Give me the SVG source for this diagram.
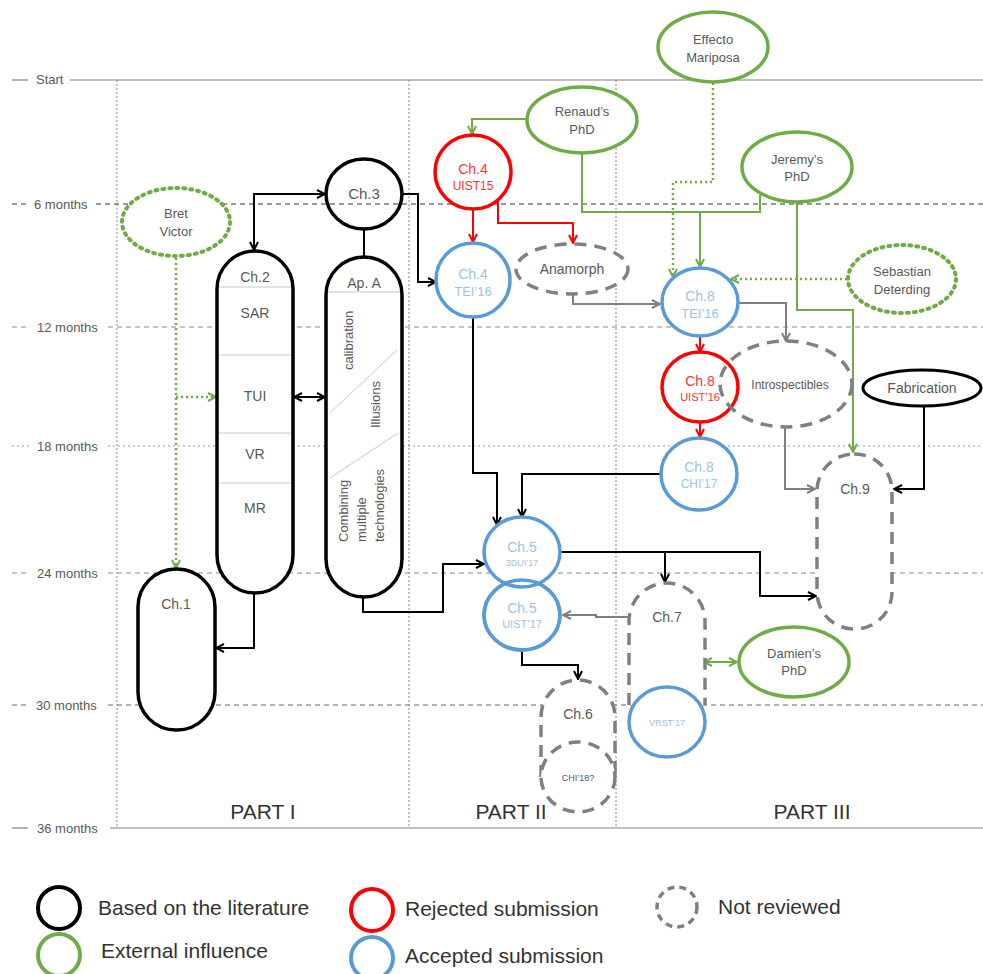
<svg xmlns="http://www.w3.org/2000/svg" width="983" height="974" viewBox="0 0 983 974">
<defs>
<marker id="aK" viewBox="0 0 10 10" refX="9" refY="5" markerWidth="10" markerHeight="10" markerUnits="userSpaceOnUse" orient="auto-start-reverse"><path d="M1,1 L9,5 L1,9" fill="none" stroke="#000" stroke-width="2"/></marker>
<marker id="aR" viewBox="0 0 10 10" refX="9" refY="5" markerWidth="10" markerHeight="10" markerUnits="userSpaceOnUse" orient="auto-start-reverse"><path d="M1,1 L9,5 L1,9" fill="none" stroke="#f00" stroke-width="2"/></marker>
<marker id="aG" viewBox="0 0 10 10" refX="9" refY="5" markerWidth="10" markerHeight="10" markerUnits="userSpaceOnUse" orient="auto-start-reverse"><path d="M1,1 L9,5 L1,9" fill="none" stroke="#6fac46" stroke-width="2"/></marker>
<marker id="aY" viewBox="0 0 10 10" refX="9" refY="5" markerWidth="10" markerHeight="10" markerUnits="userSpaceOnUse" orient="auto-start-reverse"><path d="M1,1 L9,5 L1,9" fill="none" stroke="#808080" stroke-width="2"/></marker>
</defs>
<style>
text{font-family:"Liberation Sans",Arial,sans-serif;fill:#595959;text-anchor:middle}
.t{font-size:13px;text-anchor:start}
.blk{fill:#fff;stroke:#000;stroke-width:3.5}
.red{fill:#fff;stroke:#f00;stroke-width:3.5}
.blu{fill:#fff;stroke:#5b9bd5;stroke-width:3.5}
.grn{fill:#fff;stroke:#6fac46;stroke-width:3.5}
.gdot{fill:#fff;stroke:#6fac46;stroke-width:4;stroke-dasharray:2,5;stroke-linecap:round}
.gry{fill:#fff;stroke:#808080;stroke-width:3.5;stroke-dasharray:12,8}
.sep{stroke:#c8c8c8;stroke-width:1}
.cK{fill:none;stroke:#000;stroke-width:2}
.cR{fill:none;stroke:#f00;stroke-width:2}
.cG{fill:none;stroke:#6fac46;stroke-width:2}
.cGd{fill:none;stroke:#6fac46;stroke-width:2.5;stroke-dasharray:2,3}
.cY{fill:none;stroke:#808080;stroke-width:2}
.bt{fill:#9dc3e6}
.rt{fill:#ff3333}
.lg{font-size:21px;text-anchor:start;fill:#333}
</style>
<rect width="983" height="974" fill="#fff"/>
<g id="grid">
<line x1="70" y1="80" x2="983" y2="80" stroke="#808080" stroke-width="1.2"/>
<line x1="12" y1="80" x2="28" y2="80" stroke="#808080" stroke-width="1.2"/>
<line x1="12" y1="204" x2="30" y2="204" stroke="#333" stroke-dasharray="5,4"/>
<line x1="96" y1="204" x2="983" y2="204" stroke="#333" stroke-dasharray="5,4"/>
<line x1="12" y1="327" x2="30" y2="327" stroke="#888" stroke-dasharray="5,4"/>
<line x1="108" y1="327" x2="983" y2="327" stroke="#888" stroke-dasharray="5,4"/>
<line x1="12" y1="446" x2="30" y2="446" stroke="#999" stroke-dasharray="2,3"/>
<line x1="108" y1="446" x2="983" y2="446" stroke="#999" stroke-dasharray="2,3"/>
<line x1="12" y1="573" x2="30" y2="573" stroke="#888" stroke-dasharray="5,4"/>
<line x1="108" y1="573" x2="983" y2="573" stroke="#888" stroke-dasharray="5,4"/>
<line x1="12" y1="705" x2="30" y2="705" stroke="#666" stroke-dasharray="5,4"/>
<line x1="108" y1="705" x2="983" y2="705" stroke="#666" stroke-dasharray="5,4"/>
<line x1="12" y1="828" x2="28" y2="828" stroke="#808080" stroke-width="1.2"/>
<line x1="110" y1="828" x2="983" y2="828" stroke="#808080" stroke-width="1.2"/>
<line x1="117" y1="80" x2="117" y2="828" stroke="#888" stroke-dasharray="2,2"/>
<line x1="409" y1="80" x2="409" y2="828" stroke="#888" stroke-dasharray="2,2"/>
<line x1="616" y1="80" x2="616" y2="828" stroke="#888" stroke-dasharray="2,2"/>
<text class="t" x="36" y="84">Start</text>
<text class="t" x="34" y="209">6 months</text>
<text class="t" x="37" y="332">12 months</text>
<text class="t" x="37" y="451">18 months</text>
<text class="t" x="37" y="578">24 months</text>
<text class="t" x="36" y="710">30 months</text>
<text class="t" x="37" y="833">36 months</text>
<text x="263" y="819" style="font-size:21px;fill:#333">PART I</text>
<text x="511" y="819" style="font-size:21px;fill:#333">PART II</text>
<text x="812" y="819" style="font-size:21px;fill:#333">PART III</text>
</g>
<g id="connectors">
<path class="cK" d="M254,250 V194 H325" marker-start="url(#aK)" marker-end="url(#aK)"/>
<path class="cK" d="M364,229 V257"/>
<path class="cK" d="M402,194 H418 V282 H436" marker-end="url(#aK)"/>
<path class="cK" d="M294,397 H325" marker-start="url(#aK)" marker-end="url(#aK)"/>
<path class="cK" d="M254,593 V648 H216" marker-end="url(#aK)"/>
<path class="cK" d="M363,597 V612 H443 V564 H484" marker-end="url(#aK)"/>
<path class="cK" d="M473,317 V473 H497 V525" marker-end="url(#aK)"/>
<path class="cK" d="M661,474 H522 V517" marker-end="url(#aK)"/>
<path class="cK" d="M561,552 H760 V596 H816" marker-end="url(#aK)"/>
<path class="cK" d="M665,552 V582" marker-end="url(#aK)"/>
<path class="cK" d="M522,650 V665 H578 V679" marker-end="url(#aK)"/>
<path class="cK" d="M924,406 V489 H894" marker-end="url(#aK)"/>
<path class="cGd" d="M176,258 V568" marker-end="url(#aG)"/>
<path class="cGd" d="M176,397 H216" marker-end="url(#aG)"/>
<path class="cY" d="M628,617 H596 V615 H563" marker-end="url(#aY)"/>
<path class="cG" d="M704,662 H737" marker-start="url(#aG)" marker-end="url(#aG)"/>
<path class="cY" d="M785,427 V489 H815" marker-end="url(#aY)"/>
<path class="cY" d="M737,303 H786 V341" marker-end="url(#aY)"/>
<path class="cR" d="M700,337 V352" marker-end="url(#aR)"/>
<path class="cR" d="M700,422 V437" marker-end="url(#aR)"/>
<path class="cR" d="M473,210 V242" marker-end="url(#aR)"/>
<path class="cR" d="M498,201 V223 H573 V243" marker-end="url(#aR)"/>
<path class="cY" d="M573,294 V304 H660" marker-end="url(#aY)"/>
<path class="cG" d="M527,119 H472 V134" marker-end="url(#aG)"/>
<path class="cG" d="M582,152 V212 H700 V267" marker-end="url(#aG)"/>
<path class="cG" d="M760,195 V212 H700"/>
<path class="cG" d="M797,202 V310 H853 V452" marker-end="url(#aG)"/>
<path class="cGd" d="M713,83 V182 H673 V277" marker-end="url(#aG)"/>
<path class="cGd" d="M847,279 H731" marker-end="url(#aG)"/>
</g>
<g id="bret"><ellipse class="gdot" cx="176" cy="222" rx="54" ry="34"/><text x="176" y="218" font-size="13">Bret</text><text x="176" y="236" font-size="13">Victor</text></g>
<g id="ch3"><ellipse class="blk" style="fill:none" cx="364" cy="194" rx="38" ry="35"/><text x="364" y="199" font-size="15">Ch.3</text></g>
<g id="ch2"><rect class="blk" x="217" y="251" width="76" height="342" rx="38"/>
<line class="sep" x1="219" y1="287" x2="291" y2="287"/><line class="sep" x1="219" y1="355" x2="291" y2="355"/><line class="sep" x1="219" y1="433" x2="291" y2="433"/><line class="sep" x1="219" y1="483" x2="291" y2="483"/>
<text x="255" y="282" font-size="14">Ch.2</text><text x="255" y="318" font-size="14">SAR</text><text x="255" y="401" font-size="14">TUI</text><text x="255" y="459" font-size="14">VR</text><text x="255" y="513" font-size="14">MR</text></g>
<g id="apa"><rect class="blk" x="326" y="257" width="76" height="340" rx="38"/>
<line class="sep" x1="328" y1="292" x2="400" y2="292"/><line class="sep" x1="330" y1="413" x2="397" y2="350"/><line class="sep" x1="330" y1="478" x2="398" y2="433"/>
<text x="364" y="288" font-size="14">Ap. A</text>
<text transform="translate(353,370) rotate(-90)" font-size="13" style="text-anchor:start">calibration</text>
<text transform="translate(380,428) rotate(-90)" font-size="13" style="text-anchor:start">Illusions</text>
<text transform="translate(348,542) rotate(-90)" font-size="13" style="text-anchor:start">Combining</text>
<text transform="translate(366,542) rotate(-90)" font-size="13" style="text-anchor:start">multiple</text>
<text transform="translate(384,542) rotate(-90)" font-size="13" style="text-anchor:start">technologies</text></g>
<g id="ch1"><rect class="blk" x="138" y="569" width="77" height="161" rx="38"/><text x="176" y="609" font-size="14">Ch.1</text></g>
<g id="renaud"><ellipse class="grn" cx="582" cy="120" rx="55" ry="33"/><text x="582" y="116" font-size="13">Renaud’s</text><text x="582" y="134" font-size="13">PhD</text></g>
<g id="effecto"><ellipse class="grn" cx="713" cy="47" rx="55" ry="35"/><text x="713" y="44" font-size="13">Effecto</text><text x="713" y="62" font-size="13">Mariposa</text></g>
<g id="jeremy"><ellipse class="grn" cx="797" cy="167" rx="55" ry="35"/><text x="797" y="164" font-size="13">Jeremy’s</text><text x="797" y="181" font-size="13">PhD</text></g>
<g id="sebastian"><ellipse class="gdot" cx="902" cy="279" rx="54" ry="34"/><text x="902" y="276" font-size="13">Sebastian</text><text x="902" y="294" font-size="13">Deterding</text></g>
<g id="ch4uist"><ellipse class="red" cx="473" cy="172" rx="38" ry="37"/><text class="rt" x="473" y="174" font-size="14">Ch.4</text><text class="rt" x="473" y="190" font-size="12">UIST15</text></g>
<g id="ch4tei"><ellipse class="blu" cx="473" cy="280" rx="37" ry="37"/><text class="bt" x="473" y="279" font-size="14">Ch.4</text><text class="bt" x="473" y="296" font-size="13">TEI’16</text></g>
<g id="anamorph"><ellipse class="gry" cx="572" cy="269" rx="56" ry="25"/><text x="572" y="274" font-size="14">Anamorph</text></g>
<g id="ch8tei"><ellipse class="blu" cx="700" cy="302" rx="38" ry="34"/><text class="bt" x="700" y="301" font-size="14">Ch.8</text><text class="bt" x="700" y="318" font-size="13">TEI’16</text></g>
<g id="ch8uist"><ellipse class="red" cx="700" cy="387" rx="38" ry="35"/><text class="rt" x="700" y="386" font-size="14">Ch.8</text><text class="rt" x="700" y="401" font-size="11">UIST’16</text></g>
<g id="introspectibles"><ellipse class="gry" style="fill:none" cx="786" cy="384" rx="66" ry="43"/><text x="790" y="389" font-size="12">Introspectibles</text></g>
<g id="ch8chi"><ellipse class="blu" cx="699" cy="474" rx="38" ry="36"/><text class="bt" x="699" y="472" font-size="14">Ch.8</text><text class="bt" x="699" y="488" font-size="12">CHI’17</text></g>
<g id="fabrication"><ellipse fill="#fff" stroke="#000" stroke-width="3" cx="922" cy="388" rx="59" ry="18"/><text x="922" y="393" font-size="14">Fabrication</text></g>
<g id="ch9"><rect class="gry" x="817" y="454" width="75" height="175" rx="37"/><text x="855" y="494" font-size="14">Ch.9</text></g>
<g id="ch5uist"><ellipse class="blu" cx="522" cy="615" rx="38" ry="35"/><text class="bt" x="522" y="613" font-size="14">Ch.5</text><text class="bt" x="522" y="628" font-size="11">UIST’17</text></g>
<g id="ch5dui"><ellipse class="blu" cx="522" cy="552" rx="38" ry="35"/><text class="bt" x="522" y="552" font-size="14">Ch.5</text><text class="bt" x="522" y="566" font-size="9">3DUI’17</text>
<ellipse class="blu" style="fill:none" cx="522" cy="615" rx="38" ry="35"/></g>
<g id="ch7"><path class="gry" d="M629,705 V621 A38,38 0 0 1 705,621 V705"/><text x="667" y="622" font-size="14">Ch.7</text></g>
<g id="vrst"><ellipse class="blu" cx="667" cy="722" rx="38" ry="35"/><text class="bt" x="667" y="726" font-size="9">VRST’17</text></g>
<g id="damien"><ellipse class="grn" cx="794" cy="662" rx="55" ry="35"/><text x="794" y="658" font-size="13">Damien’s</text><text x="794" y="675" font-size="13">PhD</text></g>
<g id="ch6"><path class="gry" d="M541,777 V717 A37,37 0 0 1 615,717 V777"/><text x="578" y="719" font-size="14">Ch.6</text></g>
<g id="chi18"><ellipse class="gry" cx="578" cy="777" rx="37" ry="35"/><text x="578" y="781" font-size="9">CHI’18?</text></g>
<g id="legend">
<circle cx="59" cy="908" r="21" fill="none" stroke="#000" stroke-width="4"/><text class="lg" x="98" y="915">Based on the literature</text>
<circle cx="59" cy="955" r="21" fill="none" stroke="#6fac46" stroke-width="4"/><text class="lg" x="101" y="958">External influence</text>
<circle cx="372" cy="910" r="21" fill="none" stroke="#f00" stroke-width="4"/><text class="lg" x="405" y="916">Rejected submission</text>
<circle cx="372" cy="958" r="21" fill="none" stroke="#5b9bd5" stroke-width="4"/><text class="lg" x="405" y="963">Accepted submission</text>
<circle cx="677" cy="907" r="20" fill="none" stroke="#808080" stroke-width="3.5" stroke-dasharray="7,5"/><text class="lg" x="718" y="914">Not reviewed</text>
</g>
</svg>
